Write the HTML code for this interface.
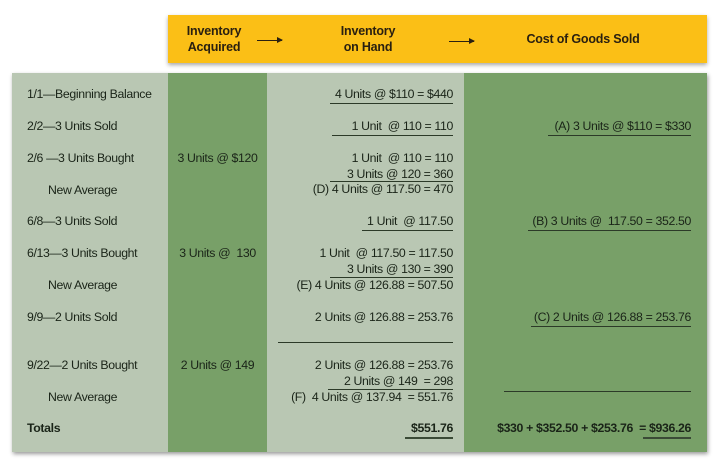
<!DOCTYPE html>
<html><head><meta charset="utf-8"><style>
body{margin:0;width:720px;height:468px;background:#fff;position:relative;overflow:hidden;font-family:"Liberation Sans",sans-serif;color:#1e2a1c}
.a{position:absolute}
.hdr{left:168px;top:15px;width:539px;height:48px;background:#fbbf16;box-shadow:0 2px 4px rgba(0,0,0,.35)}
.h{position:absolute;font-weight:bold;font-size:12.5px;text-align:center;line-height:16px;color:#2a2010;letter-spacing:-0.2px}
.arr{position:absolute;height:1px;background:#2a2010}
.arr:after{content:"";position:absolute;right:-1px;top:-3px;border-left:6px solid #2a2010;border-top:3.5px solid transparent;border-bottom:3.5px solid transparent}
.panel{left:12px;top:73px;width:695px;height:379px;box-shadow:1px 2px 4px rgba(0,0,0,.4)}
.t{position:absolute;font-size:12.3px;line-height:14px;white-space:nowrap;letter-spacing:-0.35px;color:#1a2418}
.r{text-align:right}
.u{position:absolute;height:1px;background:#2c3a28}
.uu{position:absolute;height:2px;background:#3a4a36}
</style></head><body>
<div class="a hdr">
 <div class="h" style="left:10px;top:8px;width:72px">Inventory<br>Acquired</div>
 <div class="arr" style="left:89px;top:25px;width:25px"></div>
 <div class="h" style="left:158px;top:8px;width:84px">Inventory<br>on Hand</div>
 <div class="arr" style="left:281px;top:26px;width:25px"></div>
 <div class="h" style="left:325px;top:16px;width:180px">Cost of Goods Sold</div>
</div>
<div class="a panel">
 <div class="a" style="left:0;top:0;width:156px;height:379px;background:#b9c7b3"></div>
 <div class="a" style="left:156px;top:0;width:99px;height:379px;background:#78a068"></div>
 <div class="a" style="left:255px;top:0;width:197px;height:379px;background:#b9c7b3"></div>
 <div class="a" style="left:452px;top:0;width:243px;height:379px;background:#78a068"></div>
</div>
<div>
<div class="t" style="left:27px;top:87px">1/1—Beginning Balance</div>
<div class="t" style="left:27px;top:119px">2/2—3 Units Sold</div>
<div class="t" style="left:27px;top:151px">2/6 —3 Units Bought</div>
<div class="t" style="left:48px;top:183px">New Average</div>
<div class="t" style="left:27px;top:214px">6/8—3 Units Sold</div>
<div class="t" style="left:27px;top:246px">6/13—3 Units Bought</div>
<div class="t" style="left:48px;top:278px">New Average</div>
<div class="t" style="left:27px;top:310px">9/9—2 Units Sold</div>
<div class="t" style="left:27px;top:358px">9/22—2 Units Bought</div>
<div class="t" style="left:48px;top:390px">New Average</div>
<div class="t" style="left:27px;top:421px;font-weight:bold">Totals</div>

<div class="t" style="left:168px;width:99px;text-align:center;top:151px">3 Units @ $120</div>
<div class="t" style="left:168px;width:99px;text-align:center;top:246px">3 Units @&nbsp; 130</div>
<div class="t" style="left:168px;width:99px;text-align:center;top:358px">2 Units @ 149</div>

<div class="t r" style="right:267px;top:87px">4 Units @ $110 = $440</div>
<div class="u" style="left:330px;width:123px;top:103px"></div>
<div class="t r" style="right:267px;top:119px">1 Unit&nbsp; @ 110 = 110</div>
<div class="u" style="left:332px;width:121px;top:135px"></div>
<div class="t r" style="right:267px;top:151px">1 Unit&nbsp; @ 110 = 110</div>
<div class="t r" style="right:267px;top:167px">3 Units @ 120 = 360</div>
<div class="u" style="left:330px;width:123px;top:181px"></div>
<div class="t r" style="right:267px;top:182px">(D) 4 Units @ 117.50 = 470</div>
<div class="t r" style="right:267px;top:214px">1 Unit&nbsp; @ 117.50</div>
<div class="u" style="left:362px;width:91px;top:230px"></div>
<div class="t r" style="right:267px;top:246px">1 Unit&nbsp; @ 117.50 = 117.50</div>
<div class="t r" style="right:267px;top:262px">3 Units @ 130 = 390</div>
<div class="u" style="left:330px;width:123px;top:277px"></div>
<div class="t r" style="right:267px;top:278px">(E) 4 Units @ 126.88 = 507.50</div>
<div class="t r" style="right:267px;top:310px">2 Units @ 126.88 = 253.76</div>
<div class="u" style="left:278px;width:175px;top:342px"></div>
<div class="t r" style="right:267px;top:358px">2 Units @ 126.88 = 253.76</div>
<div class="t r" style="right:267px;top:374px">2 Units @ 149&nbsp; = 298</div>
<div class="u" style="left:328px;width:125px;top:389px"></div>
<div class="t r" style="right:267px;top:390px">(F)&nbsp; 4 Units @ 137.94&nbsp; = 551.76</div>
<div class="t r" style="right:267px;top:421px;font-weight:bold">$551.76</div>
<div class="uu" style="left:405px;width:48px;top:437px"></div>

<div class="t r" style="right:29px;top:119px">(A) 3 Units @ $110 = $330</div>
<div class="u" style="left:548px;width:143px;top:135px"></div>
<div class="t r" style="right:29px;top:214px">(B) 3 Units @&nbsp; 117.50 = 352.50</div>
<div class="u" style="left:528px;width:163px;top:230px"></div>
<div class="t r" style="right:29px;top:310px">(C) 2 Units @ 126.88 = 253.76</div>
<div class="u" style="left:531px;width:160px;top:326px"></div>
<div class="u" style="left:504px;width:187px;top:391px"></div>
<div class="t r" style="right:29px;top:421px;font-weight:bold">$330 + $352.50 + $253.76&nbsp; = $936.26</div>
<div class="uu" style="left:643px;width:48px;top:437px"></div>
</div>
</body></html>
